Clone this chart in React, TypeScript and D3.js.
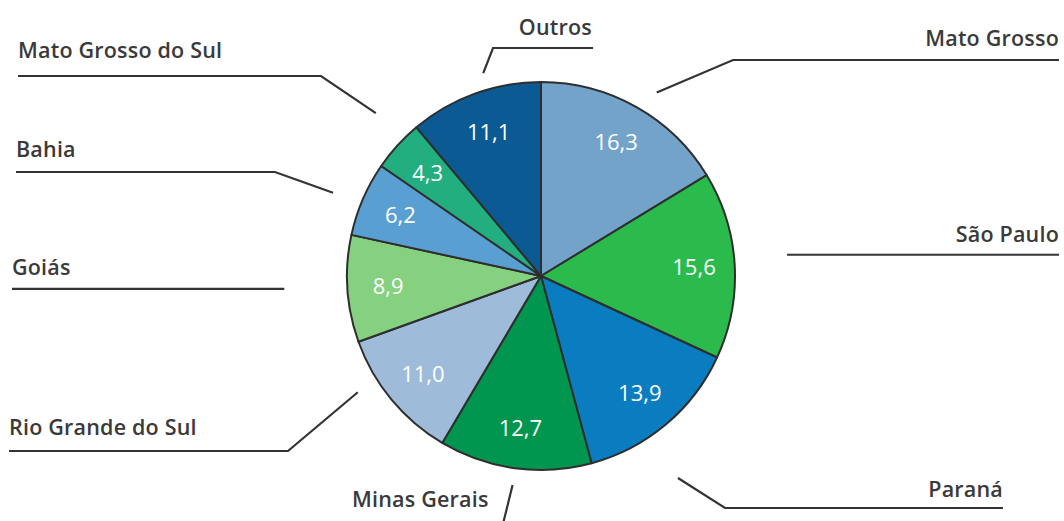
import React from "react";
import * as d3 from "d3";

const categories = [
  "Mato Grosso",
  "São Paulo",
  "Paraná",
  "Minas Gerais",
  "Rio Grande do Sul",
  "Goiás",
  "Bahia",
  "Mato Grosso do Sul",
  "Outros",
];
const values = [16.3, 15.6, 13.9, 12.7, 11.0, 8.9, 6.2, 4.3, 11.1];
const valueLabels = ["16,3", "15,6", "13,9", "12,7", "11,0", "8,9", "6,2", "4,3", "11,1"];

const colors = [
  "#74a3c9",
  "#2bba4c",
  "#0a7dc0",
  "#00964f",
  "#9ebcda",
  "#86d17f",
  "#5a9fd2",
  "#22ae7e",
  "#0b5a93",
];

// annotation layout (leader lines and label placement)
type Leader = {
  r: number;
  da: number;
  pts: [number, number][];
  tx: number;
  ty: number;
  anchor: "start" | "end";
};
const leaders: Leader[] = [
  { r: 217, da: 2.9, pts: [[733, 60], [1059, 60]], tx: 1059, ty: 46, anchor: "end" },
  { r: 247, da: -1.7, pts: [[1059, 255]], tx: 1059, ty: 242, anchor: "end" },
  { r: 244, da: 6, pts: [[725, 508], [1003, 508]], tx: 1003, ty: 497, anchor: "end" },
  { r: 211, da: 0, pts: [[502, 528]], tx: 352, ty: 507, anchor: "start" },
  { r: 217, da: 7.2, pts: [[288, 451], [9, 451]], tx: 9, ty: 435, anchor: "start" },
  { r: 257, da: 0.9, pts: [[12, 289]], tx: 12, ty: 275, anchor: "start" },
  { r: 224, da: -1.6, pts: [[275, 172], [16, 172]], tx: 16, ty: 157, anchor: "start" },
  { r: 232, da: 2.3, pts: [[321, 76], [18, 76]], tx: 18, ty: 58, anchor: "start" },
  { r: 211, da: 4.1, pts: [[493, 48], [593, 48]], tx: 592, ty: 35, anchor: "end" },
];

const W = 1064;
const H = 521;
const CX = 541;
const CY = 276;
const R = 194;

export default function App() {
  const data = values.map((v, i) => ({ v, i }));
  const pie = d3
    .pie<{ v: number; i: number }>()
    .value((d) => d.v)
    .sort(null)
    .startAngle(0)
    .endAngle(2 * Math.PI);
  const arcs = pie(data);
  const arc = d3.arc<d3.PieArcDatum<{ v: number; i: number }>>().innerRadius(0).outerRadius(R);
  const labelArc = d3
    .arc<d3.PieArcDatum<{ v: number; i: number }>>()
    .innerRadius(R * 0.79)
    .outerRadius(R * 0.79);
  const line = d3.line();

  return (
    <svg
      width={W}
      height={H}
      style={{ position: "absolute", left: 0, top: 0, background: "#fff" }}
      fontFamily="'Open Sans', sans-serif"
    >
      <g transform={`translate(${CX},${CY})`}>
        {arcs.map((a, k) => (
          <path key={k} d={arc(a) || ""} fill={colors[k]} stroke="#2e2e2e" strokeWidth={2} strokeLinejoin="round" />
        ))}
        {arcs.map((a, k) => {
          const [x, y] = labelArc.centroid(a);
          return (
            <text
              key={k}
              x={x}
              y={y}
              dy="0.36em"
              textAnchor="middle"
              fill="#fff"
              fontSize={22}
              fontWeight={500}
            >
              {valueLabels[k]}
            </text>
          );
        })}
      </g>
      {arcs.map((a, k) => {
        const L = leaders[k];
        const mid = (a.startAngle + a.endAngle) / 2 + (L.da * Math.PI) / 180;
        const start: [number, number] = [CX + L.r * Math.sin(mid), CY - L.r * Math.cos(mid)];
        let pts: [number, number][] = [start, ...L.pts];
        if (L.pts.length === 1 && (k === 1 || k === 5)) {
          pts = [start, [L.pts[0][0], start[1]]];
        }
        return (
          <g key={k}>
            <path d={line(pts) || ""} fill="none" stroke="#333" strokeWidth={2.2} />
            <text
              x={L.tx}
              y={L.ty}
              textAnchor={L.anchor}
              fill="#3a3a3a"
              fontSize={21.5}
              fontWeight={600}
              letterSpacing={0.2}
            >
              {categories[k]}
            </text>
          </g>
        );
      })}
    </svg>
  );
}
